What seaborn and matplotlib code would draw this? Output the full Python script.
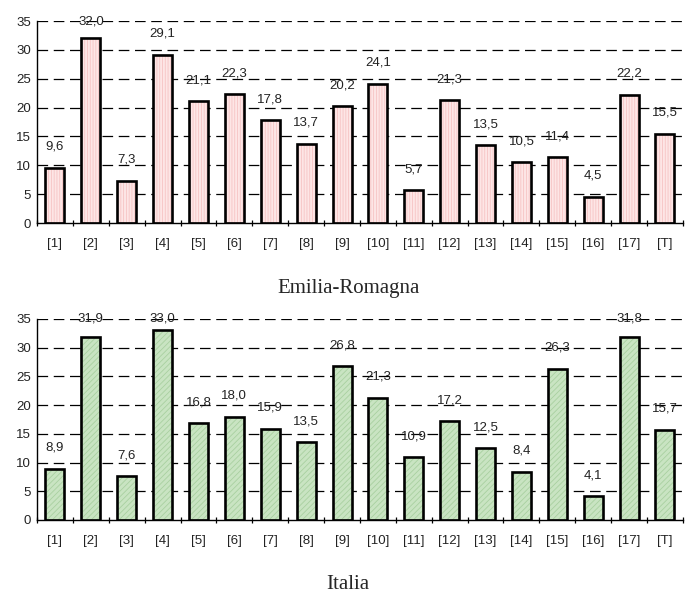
import matplotlib
matplotlib.use("Agg")
import matplotlib.pyplot as plt
from matplotlib import colors as mcolors
import seaborn as sns
import pandas as pd
import numpy as np

categories = ["[1]", "[2]", "[3]", "[4]", "[5]", "[6]", "[7]", "[8]", "[9]",
              "[10]", "[11]", "[12]", "[13]", "[14]", "[15]", "[16]", "[17]", "[T]"]
emilia_romagna = [9.6, 32.0, 7.3, 29.1, 21.1, 22.3, 17.8, 13.7, 20.2,
                  24.1, 5.7, 21.3, 13.5, 10.5, 11.4, 4.5, 22.2, 15.5]
italia = [8.9, 31.9, 7.6, 33.0, 16.8, 18.0, 15.9, 13.5, 26.8,
          21.3, 10.9, 17.2, 12.5, 8.4, 26.3, 4.1, 31.8, 15.7]
panel_titles = ["Emilia-Romagna", "Italia"]
yticks = [0, 5, 10, 15, 20, 25, 30, 35]

sns.set_theme(style="white")
plt.rcParams["font.family"] = ["Liberation Sans", "DejaVu Sans"]
plt.rcParams["hatch.linewidth"] = 0.6

fig = plt.figure(figsize=(6.87, 5.95), dpi=100)
ax_top = fig.add_axes([0.0539, 0.6252, 0.9401, 0.3395])
ax_bot = fig.add_axes([0.0539, 0.1261, 0.9401, 0.3378])

# axes, values, fill, fine texture, texture colour, title height
panels = [
    (ax_top, emilia_romagna, "#fde6e6", "||||||", "#f6c4c4", 0.515),
    (ax_bot, italia, "#c9e4c2", "//////", "#a9d0a0", 0.017),
]

for (ax, values, color, hatch, hatch_color, title_y), title in zip(panels, panel_titles):
    df = pd.DataFrame({"cat": categories, "val": values})
    sns.barplot(data=df, x="cat", y="val", order=categories, color=color,
                saturation=1, width=0.53, edgecolor="black", linewidth=1.9, ax=ax)
    for p in ax.patches:
        p.set_hatch(hatch)
        p._hatch_color = mcolors.to_rgba(hatch_color)
    n = len(categories)
    ax.set_xlim(-0.5, n - 0.5)
    ax.set_ylim(0, 35)
    ax.set_axisbelow(True)
    for t in yticks[1:]:
        ax.axhline(t, color="black", lw=0.9, dashes=(8.5, 4.5), zorder=0)
    for s in ["top", "right"]:
        ax.spines[s].set_visible(False)
    for s in ["left", "bottom"]:
        ax.spines[s].set_color("black")
        ax.spines[s].set_linewidth(1.0)
    ax.set_yticks(yticks)
    ax.set_yticklabels([str(t) for t in yticks], fontsize=9.5, color="#222222")
    ax.tick_params(axis="y", direction="inout", length=5, width=0.9, color="black", pad=2)
    ax.set_xticks(np.arange(n))
    ax.set_xticklabels(categories, fontsize=9.5, color="#222222")
    ax.tick_params(axis="x", which="major", length=0, pad=11)
    ax.set_xticks(np.arange(n + 1) - 0.5, minor=True)
    ax.tick_params(axis="x", which="minor", direction="inout", length=5, width=0.9,
                   color="black", bottom=True)
    ax.set_xlabel("")
    ax.set_ylabel("")
    for i, v in enumerate(values):
        ax.text(i, min(v + 3.65, 35.0), f"{v:.1f}".replace(".", ","),
                ha="center", va="center", fontsize=9.5, color="#222222",
                zorder=5, clip_on=False)
    fig.text(0.507, title_y, title, ha="center", va="center",
             fontsize=15, family=["Liberation Serif", "DejaVu Serif"])

fig.savefig("out.png", dpi=100)
